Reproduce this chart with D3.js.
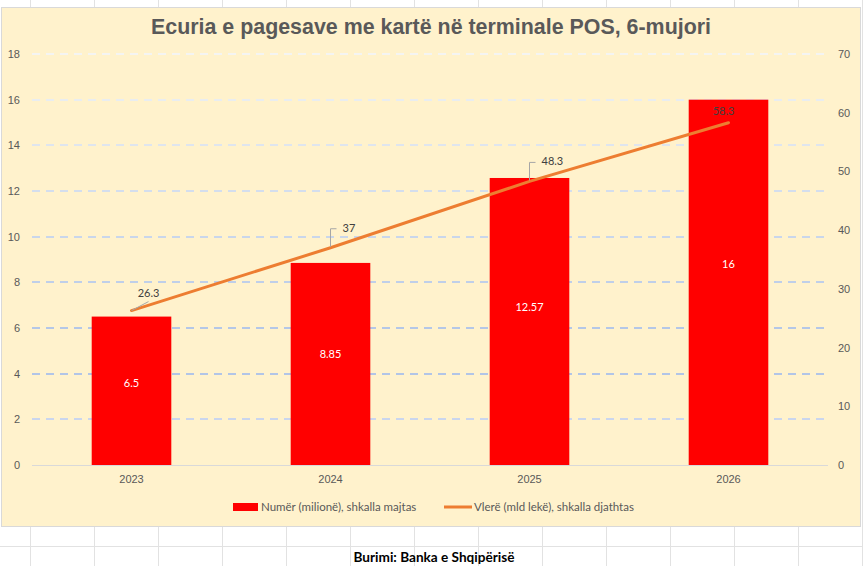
<!DOCTYPE html>
<html>
<head>
<meta charset="utf-8">
<script src="https://cdn.jsdelivr.net/npm/d3@7"></script>
<style>
  body { margin: 0; background: #fff; }
  svg { display: block; font-family: Lato, "Open Sans", sans-serif; }
</style>
</head>
<body>
<svg id="chart" width="863" height="566"></svg>
<script>
"use strict";

const years = ["2023", "2024", "2025", "2026"];
const countValues = [6.5, 8.85, 12.57, 16];        // millions, left axis
const amountValues = [26.3, 37, 48.3, 58.3];       // mld lekë, right axis
const leftTicks = [0, 2, 4, 6, 8, 10, 12, 14, 16, 18];
const rightTicks = [0, 10, 20, 30, 40, 50, 60, 70];
const titleText = "Ecuria e pagesave me kartë në terminale POS, 6-mujori";
const legendLabels = ["Numër (milionë), shkalla majtas", "Vlerë (mld lekë), shkalla djathtas"];
const sourceText = "Burimi: Banka e Shqipërisë";

const svg = d3.select("#chart");
const W = 863, H = 566;

// spreadsheet cells behind the chart
const cellCols = d3.range(30, W, 64);
svg.append("g").selectAll("line").data(cellCols).join("line")
    .attr("x1", d => d + 0.5).attr("x2", d => d + 0.5).attr("y1", 0).attr("y2", H)
    .attr("stroke", "#e2e2e2");
svg.append("line").attr("x1", 0).attr("x2", W).attr("y1", 546.5).attr("y2", 546.5)
    .attr("stroke", "#e2e2e2");

// chart area
svg.append("rect").attr("x", 1.5).attr("y", 7.5).attr("width", 859).attr("height", 519)
    .attr("fill", "#fff2cc").attr("stroke", "#d9d9d9");

const plot = { left: 32, right: 828, top: 54, bottom: 465 };

const x = d3.scaleBand().domain(years).range([plot.left, plot.right])
    .paddingInner(0.6).paddingOuter(0.3);
const yL = d3.scaleLinear().domain([0, 18]).range([plot.bottom, plot.top]);
const yR = d3.scaleLinear().domain([0, 70]).range([plot.bottom, plot.top]);
const gridColor = d3.scaleLinear().domain([18, 6, 4, 2])
    .range(["#f4f4f2", "#b4c7e7", "#b2c5e7", "#cad6ee"]);

// gridlines
svg.append("g").selectAll("line").data(leftTicks.filter(d => d > 0)).join("line")
    .attr("x1", plot.left).attr("x2", plot.right)
    .attr("y1", d => Math.round(yL(d))).attr("y2", d => Math.round(yL(d)))
    .attr("stroke", d => gridColor(d)).attr("stroke-width", 2)
    .attr("stroke-dasharray", "8,6");

// left axis
const axL = svg.append("g").attr("transform", `translate(${plot.left - 8},0)`)
    .call(d3.axisLeft(yL).tickValues(leftTicks).tickSize(0).tickPadding(4));
axL.select(".domain").remove();
axL.selectAll("text").attr("fill", "#595959").style("font-size", "11px");

// right axis
const axR = svg.append("g").attr("transform", `translate(${plot.right + 8},0)`)
    .call(d3.axisRight(yR).tickValues(rightTicks).tickSize(0).tickPadding(2));
axR.select(".domain").remove();
axR.selectAll("text").attr("fill", "#595959").style("font-size", "11px");

// bars
svg.append("g").selectAll("rect").data(countValues).join("rect")
    .attr("x", (d, i) => x(years[i])).attr("width", x.bandwidth())
    .attr("y", d => yL(d)).attr("height", d => yL(0) - yL(d))
    .attr("fill", "#ff0000");

svg.append("g").selectAll("text").data(countValues).join("text")
    .attr("x", (d, i) => x(years[i]) + x.bandwidth() / 2)
    .attr("y", d => yL(d * 0.55) + 4)
    .attr("text-anchor", "middle").attr("fill", "#fff")
    .style("font-size", "11px")
    .text(d => d);

// baseline
svg.append("line").attr("x1", plot.left).attr("x2", plot.right)
    .attr("y1", yL(0) + 0.5).attr("y2", yL(0) + 0.5).attr("stroke", "#d9d9d9");

// x axis labels
const axX = svg.append("g").attr("transform", `translate(0,${plot.bottom})`)
    .call(d3.axisBottom(x).tickSize(0).tickPadding(10));
axX.select(".domain").remove();
axX.selectAll("text").attr("fill", "#595959").style("font-size", "11px");

// value line
const cx = i => x(years[i]) + x.bandwidth() / 2;
const line = d3.line().x((d, i) => cx(i)).y(d => yR(d));
svg.append("path").datum(amountValues).attr("d", line)
    .attr("fill", "none").attr("stroke", "#ed7d31").attr("stroke-width", 3)
    .attr("stroke-linecap", "round");

// value labels with leader lines (offsets from the point)
const labelShift = [[17, -14], [12, -16], [12, -16], [-5, -8]];
const leaders = svg.append("g").attr("fill", "none").attr("stroke", "#a6a6a6").attr("stroke-width", 1);
amountValues.forEach((v, i) => {
    const px = cx(i), py = yR(v);
    const [dx, dy] = labelShift[i];
    if (i === 0) {
        leaders.append("path").attr("d", `M${px},${py} L${px + 17},${py - 9}`);
    } else if (i < 3) {
        leaders.append("path").attr("d", `M${px},${py - 1} L${px},${py - 19} L${px + 6},${py - 19}`);
    }
    svg.append("text")
        .attr("x", px + dx).attr("y", py + dy)
        .attr("text-anchor", i === 0 || i === 3 ? "middle" : "start")
        .attr("fill", "#404040").style("font-size", "11px")
        .text(v);
});

// title
svg.append("text").attr("x", 431).attr("y", 34).attr("text-anchor", "middle")
    .attr("fill", "#595959")
    .style("font-family", "'Liberation Sans', Arial, sans-serif")
    .style("font-size", "21.4px").style("font-weight", "bold")
    .text(titleText);

// legend
const lg = svg.append("g").attr("transform", "translate(0,507)");
lg.append("rect").attr("x", 233).attr("y", -4).attr("width", 25).attr("height", 8).attr("fill", "#ff0000");
lg.append("text").attr("x", 261).attr("y", 4).attr("fill", "#595959").style("font-size", "11.5px")
    .text(legendLabels[0]);
lg.append("line").attr("x1", 444).attr("x2", 472).attr("y1", 0).attr("y2", 0)
    .attr("stroke", "#ed7d31").attr("stroke-width", 3);
lg.append("text").attr("x", 474).attr("y", 4).attr("fill", "#595959").style("font-size", "11.5px")
    .text(legendLabels[1]);

// source
svg.append("text").attr("x", 434).attr("y", 562).attr("text-anchor", "middle")
    .attr("fill", "#000").style("font-size", "13.6px").style("font-weight", "bold")
    .text(sourceText);
</script>
</body>
</html>
